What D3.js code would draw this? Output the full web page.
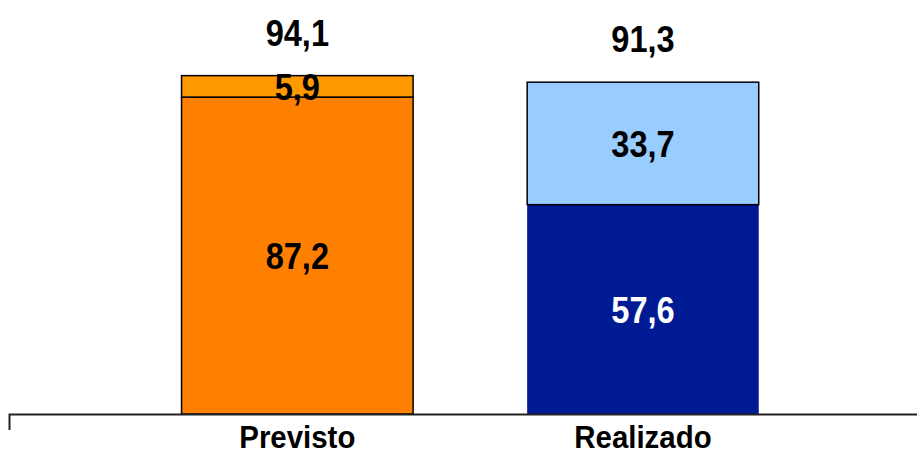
<!DOCTYPE html>
<html>
<head>
<meta charset="utf-8">
<script src="https://cdn.jsdelivr.net/npm/d3@7"></script>
<style>
  html, body { margin: 0; padding: 0; background: #fff; }
  svg { display: block; }
  text { font-family: "Liberation Sans", Arial, sans-serif; font-weight: bold; }
</style>
</head>
<body>
<svg id="chart" width="917" height="455"></svg>
<script>
// chart data
const categories = ["Previsto", "Realizado"];
const baseValues = [87.2, 57.6];
const topValues = [5.9, 33.7];
const totalValues = [94.1, 91.3];

// styles per category
const baseFill = ["#FF7F00", "#001A94"];
const topFill = ["#FF9900", "#99CCFF"];
const baseStroke = ["#000", "none"];
const baseLabelFill = ["#000", "#fff"];

function drawChart() {
    const svg = d3.select('#chart');
    const width = +svg.attr('width');

    let x = d3.scaleBand()
        .domain(categories)
        .range([9, width + 1])
        .paddingInner(0.33)
        .paddingOuter(0.48)
        .align(0.52);

    let y = d3.scaleLinear()
        .domain([0, d3.max(totalValues)])
        .range([414, 72]);

    let rows = categories.map((c, i) => ({
        name: c, base: baseValues[i], top: topValues[i], total: totalValues[i], i: i
    }));

    let g = svg.selectAll('g.bar')
        .data(rows)
        .enter()
        .append('g')
        .attr('class', 'bar');

    // bottom segment
    g.append('rect')
        .attr('x', d => x(d.name))
        .attr('width', x.bandwidth())
        .attr('y', d => y(d.base))
        .attr('height', d => y(0) - y(d.base))
        .attr('fill', d => baseFill[d.i])
        .attr('stroke', d => baseStroke[d.i])
        .attr('stroke-width', 1.5);

    // top segment
    g.append('rect')
        .attr('x', d => x(d.name))
        .attr('width', x.bandwidth())
        .attr('y', d => y(d.base + d.top))
        .attr('height', d => y(d.base) - y(d.base + d.top))
        .attr('fill', d => topFill[d.i])
        .attr('stroke', '#000')
        .attr('stroke-width', 1.5);

    const fmt = v => d3.format('.1f')(v).replace('.', ',');
    const cx = d => x(d.name) + x.bandwidth() / 2;
    // narrow-looking labels: squeeze horizontally
    const place = (px, py) => 'translate(' + px + ',' + py + ') scale(0.88,1)';

    g.append('text')
        .attr('transform', d => place(cx(d), (y(0) + y(d.base)) / 2))
        .attr('dy', '0.36em')
        .attr('text-anchor', 'middle')
        .attr('font-size', 37)
        .attr('fill', d => baseLabelFill[d.i])
        .text(d => fmt(d.base));

    g.append('text')
        .attr('transform', d => place(cx(d), (y(d.base) + y(d.base + d.top)) / 2))
        .attr('dy', '0.36em')
        .attr('text-anchor', 'middle')
        .attr('font-size', 37)
        .attr('fill', '#000')
        .text(d => fmt(d.top));

    g.append('text')
        .attr('transform', d => place(cx(d), y(d.base + d.top) - 30))
        .attr('text-anchor', 'middle')
        .attr('font-size', 37)
        .attr('fill', '#000')
        .text(d => fmt(d.total));

    // category axis
    let axis = svg.append('g')
        .attr('transform', 'translate(0,' + y(0) + ')')
        .call(d3.axisBottom(x).tickSizeInner(0).tickSizeOuter(16).tickPadding(11));

    axis.select('.domain')
        .attr('stroke', '#222')
        .attr('stroke-width', 2);

    axis.selectAll('.tick text')
        .attr('font-size', 32)
        .attr('font-family', '"Liberation Sans", Arial, sans-serif')
        .attr('font-weight', 'bold')
        .attr('fill', '#000')
        .attr('transform', 'scale(0.92,1)');
}

drawChart();
</script>
</body>
</html>
